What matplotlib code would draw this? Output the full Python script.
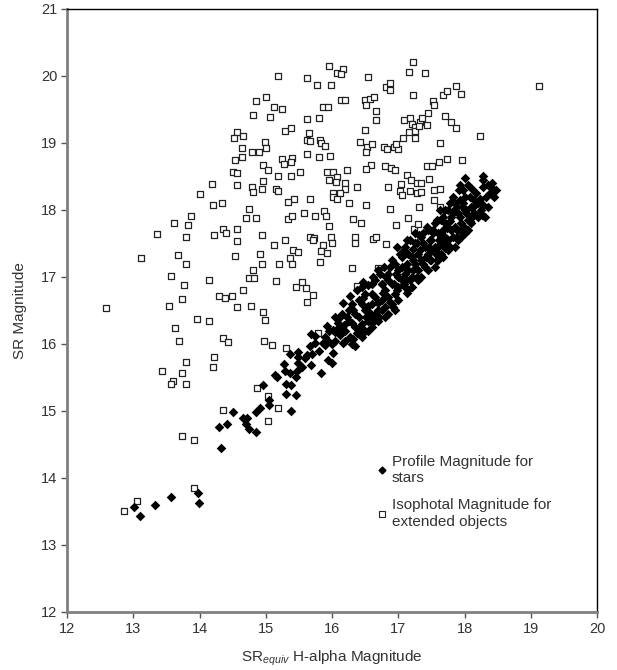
import matplotlib
matplotlib.use('Agg')
import matplotlib.pyplot as plt
from matplotlib.lines import Line2D

plt.rcParams['font.family'] = ['Liberation Sans', 'DejaVu Sans']
plt.rcParams['mathtext.fontset'] = 'custom'
plt.rcParams['mathtext.rm'] = 'Liberation Sans'
plt.rcParams['mathtext.it'] = 'Liberation Sans:italic'

# isophotal magnitude, extended objects (open squares)
ext_x = [15.18, 15.95, 16.08, 16.16, 16.14, 15.63, 15.78, 15.98, 16.55, 17.22, 17.16, 17.41,
         16.81, 16.88, 16.88, 17.23, 14.86, 15.01, 14.81, 15.06, 15.13, 15.25, 15.63, 15.81,
         15.87, 15.94, 16.13, 16.20, 16.50, 16.58, 16.63, 16.52, 16.67, 16.67, 16.50, 15.29,
         15.38, 15.66, 15.63, 15.67, 15.82, 15.84, 15.90, 16.43, 16.53, 16.61, 16.52, 15.63,
         15.80, 15.97, 14.99, 15.00, 14.79, 14.90, 15.25, 15.40, 15.38, 15.27, 14.96, 15.03,
         14.96, 14.79, 14.80, 14.94, 15.18, 15.38, 15.51, 15.15, 15.19, 15.92, 16.01, 15.95,
         16.07, 16.06, 16.19, 16.22, 16.20, 16.37, 16.02, 16.12, 16.01, 15.67, 15.42, 16.59,
         16.52, 16.80, 16.89, 16.95, 16.79, 16.83, 16.94, 17.00, 16.96, 17.07, 17.16, 17.26,
         17.08, 17.18, 17.21, 17.26, 17.25, 17.33, 17.36, 17.32, 17.45, 17.44, 17.52, 17.54,
         17.68, 17.74, 17.87, 17.95, 17.70, 17.80, 17.87, 17.63, 17.13, 17.19, 17.28, 17.35,
         17.04, 17.02, 17.17, 17.05, 17.28, 17.34, 16.85, 17.46, 17.44, 17.51, 17.62, 17.74,
         17.96, 17.54, 17.63, 19.12, 18.24, 14.56, 14.52, 14.65, 14.64, 14.64, 14.53, 14.50,
         14.56, 14.19, 14.01, 14.57, 14.20, 14.34, 14.75, 14.70, 14.86, 13.87, 13.61, 13.83,
         13.36, 13.80, 14.22, 14.35, 14.40, 14.56, 14.56, 13.11, 13.68, 13.80, 14.53, 14.91,
         14.80, 14.75, 14.83, 13.57, 14.14, 13.76, 14.65, 14.29, 14.38, 14.49, 13.74, 13.54,
         12.59, 14.56, 14.78, 13.96, 14.14, 13.63, 13.69, 14.36, 14.43, 14.22, 14.20, 13.79,
         13.43, 13.73, 13.60, 13.57, 13.79, 14.87, 17.54, 17.63, 16.88, 17.32, 17.14, 16.96,
         17.24, 17.30, 15.33, 15.39, 15.58, 15.74, 15.88, 15.91, 16.31, 16.44, 15.95, 14.95,
         15.29, 15.67, 15.73, 15.71, 15.98, 16.00, 16.35, 16.35, 16.62, 16.67, 16.82, 15.12,
         15.41, 15.48, 15.87, 15.83, 15.93, 15.36, 15.39, 15.20, 14.95, 15.82, 16.30, 16.70,
         17.30, 15.15, 15.45, 15.54, 15.61, 15.72, 15.63, 16.38, 14.96, 14.99, 14.97, 15.09,
         15.30, 15.79, 15.04, 14.36, 15.18, 15.03, 13.73, 13.92, 13.92, 13.05, 12.86, 16.25,
         16.51, 15.34, 16.07]
ext_y = [20.00, 20.15, 20.05, 20.10, 20.03, 19.97, 19.87, 19.87, 19.99, 20.21, 20.06, 20.05,
         19.84, 19.89, 19.79, 19.71, 19.63, 19.69, 19.42, 19.39, 19.53, 19.51, 19.36, 19.38,
         19.54, 19.53, 19.64, 19.64, 19.64, 19.65, 19.69, 19.57, 19.48, 19.35, 19.20, 19.18,
         19.22, 19.15, 19.05, 19.03, 19.05, 19.00, 18.96, 19.02, 18.94, 18.99, 18.87, 18.83,
         18.79, 18.81, 19.02, 18.93, 18.87, 18.86, 18.76, 18.77, 18.71, 18.68, 18.67, 18.59,
         18.43, 18.35, 18.27, 18.31, 18.50, 18.51, 18.57, 18.32, 18.29, 18.56, 18.56, 18.45,
         18.49, 18.42, 18.41, 18.60, 18.32, 18.34, 18.26, 18.26, 18.20, 18.17, 18.16, 18.67,
         18.61, 18.65, 18.63, 18.59, 18.94, 18.91, 18.94, 18.91, 18.99, 19.07, 19.17, 19.08,
         19.35, 19.37, 19.29, 19.24, 19.18, 19.32, 19.38, 19.25, 19.45, 19.27, 19.63, 19.57,
         19.72, 19.77, 19.85, 19.73, 19.40, 19.32, 19.22, 19.00, 18.52, 18.45, 18.41, 18.41,
         18.39, 18.29, 18.29, 18.22, 18.26, 18.27, 18.34, 18.46, 18.66, 18.65, 18.72, 18.76,
         18.74, 18.30, 18.32, 19.85, 19.11, 19.17, 19.07, 19.11, 18.93, 18.79, 18.74, 18.57,
         18.55, 18.39, 18.24, 18.37, 18.07, 18.10, 18.01, 17.88, 17.88, 17.91, 17.81, 17.78,
         17.64, 17.60, 17.63, 17.71, 17.65, 17.71, 17.53, 17.28, 17.33, 17.20, 17.31, 17.34,
         17.11, 16.99, 16.99, 17.01, 16.96, 16.88, 16.81, 16.71, 16.68, 16.71, 16.67, 16.57,
         16.54, 16.55, 16.57, 16.37, 16.35, 16.24, 16.05, 16.09, 16.03, 15.80, 15.65, 15.73,
         15.59, 15.57, 15.45, 15.41, 15.41, 15.35, 18.15, 18.04, 18.01, 18.05, 17.88, 17.78,
         17.71, 17.79, 17.87, 17.91, 17.95, 17.91, 17.99, 17.91, 17.87, 17.81, 17.76, 17.63,
         17.55, 17.60, 17.58, 17.55, 17.60, 17.51, 17.60, 17.51, 17.56, 17.59, 17.49, 17.48,
         17.40, 17.38, 17.47, 17.39, 17.36, 17.28, 17.19, 17.19, 17.19, 17.23, 17.14, 17.14,
         17.25, 16.94, 16.85, 16.92, 16.83, 16.73, 16.62, 16.87, 16.47, 16.36, 16.04, 15.99,
         15.94, 16.16, 15.22, 15.02, 15.04, 14.85, 14.62, 14.56, 13.85, 13.66, 13.51, 18.10,
         18.07, 18.12, 18.17]

# profile magnitude, stars (filled diamonds)
star_x = [13.01, 13.10, 13.33, 13.57, 13.97, 13.99, 14.33, 14.29, 14.42, 14.51, 14.65, 14.72,
          14.70, 14.75, 14.85, 14.85, 14.92, 14.96, 15.05, 15.05, 15.30, 15.38, 15.31, 15.45,
          15.38, 15.14, 15.17, 15.27, 15.29, 15.37, 15.47, 15.46, 15.37, 15.49, 15.49, 15.48,
          15.59, 15.63, 15.70, 15.67, 15.68, 15.68, 15.75, 15.89, 15.90, 16.02, 15.83, 15.94,
          16.00, 16.05, 16.12, 16.17, 16.35, 16.32, 15.87, 15.93, 15.92, 16.02, 16.09, 16.15,
          16.27, 16.37, 16.42, 16.30, 16.22, 16.32, 16.17, 16.27, 16.37, 16.47, 16.55, 16.60,
          16.52, 16.57, 16.47, 16.55, 16.71, 16.70, 16.77, 16.88, 16.75, 16.82, 16.72, 16.88,
          16.93, 16.98, 17.00, 17.05, 17.08, 17.13, 17.18, 17.23, 17.28, 17.13, 17.23, 16.98,
          17.08, 17.13, 17.28, 17.33, 17.38, 17.48, 17.43, 17.53, 17.58, 17.50, 17.60, 17.65,
          17.73, 17.78, 17.83, 17.71, 17.93, 17.88, 17.98, 18.03, 18.08, 18.18, 18.28, 18.28,
          18.38, 18.48, 18.31, 18.23, 18.08, 17.88, 17.78, 17.68, 17.58, 17.48, 17.38, 18.28,
          18.01, 17.93, 17.91, 17.98, 18.06, 18.11, 18.41, 18.43, 18.33, 18.23, 18.21, 18.16,
          18.28, 18.26, 18.18, 17.83, 17.78, 17.86, 17.93, 18.01, 17.98, 18.03, 18.11, 18.08,
          18.01, 17.93, 17.88, 17.71, 17.65, 17.73, 17.68, 17.63,
          16.40, 16.45, 16.50, 16.55, 16.60, 16.65, 16.65, 16.70, 16.75, 16.80, 16.80, 16.85,
          16.90, 16.90, 16.95, 17.00, 17.00, 17.05, 17.10, 17.10, 17.15, 17.20, 17.20, 17.25,
          17.30, 17.30, 17.35, 17.40, 17.40, 17.45, 17.50, 17.50, 17.55, 17.60, 17.60, 17.65,
          17.70, 17.70, 17.75, 17.80, 17.80, 17.85, 17.90, 17.95, 18.00, 18.05, 18.10, 18.15,
          18.20, 18.25, 16.10, 16.20, 16.25, 16.35, 16.40, 16.00, 15.95, 16.05, 16.15, 16.30,
          16.35, 16.45, 16.50, 16.60, 16.65, 16.70, 16.75, 16.85, 16.95, 17.05, 17.15, 17.25,
          17.35, 17.45, 17.55, 17.65, 17.75, 17.85, 16.55, 16.70, 16.85, 17.00, 17.15, 17.30,
          17.45, 17.60, 17.75, 17.90, 18.00, 18.10, 18.20, 18.35, 18.45, 16.90, 17.10, 17.25,
          16.95, 16.30, 16.45, 16.60, 16.20,
          16.25, 16.40, 16.45, 16.60, 16.62, 16.78, 16.80, 16.92, 17.02, 17.18, 17.20, 17.35,
          17.38, 17.42, 17.55, 17.52, 17.68, 17.62, 17.82, 17.85, 18.05, 18.15, 18.35, 16.12,
          16.05, 16.18, 16.50, 16.62, 16.75, 16.85, 16.97, 17.12, 17.22, 17.32, 17.47, 17.57,
          17.72, 17.95, 15.80, 15.75, 15.55]
star_y = [13.56, 13.43, 13.59, 13.71, 13.77, 13.63, 14.44, 14.76, 14.80, 14.98, 14.89, 14.90,
          14.80, 14.73, 14.68, 14.99, 15.04, 15.39, 15.16, 15.09, 15.41, 15.39, 15.26, 15.24,
          15.00, 15.53, 15.51, 15.70, 15.60, 15.57, 15.60, 15.50, 15.85, 15.88, 15.81, 15.71,
          15.79, 15.84, 15.85, 15.97, 15.69, 16.15, 16.01, 16.11, 15.99, 15.86, 15.56, 15.76,
          15.72, 16.18, 16.13, 16.01, 15.97, 16.08, 16.01, 16.06, 16.27, 16.21, 16.31, 16.18,
          16.11, 16.16, 16.26, 16.31, 16.41, 16.51, 16.61, 16.71, 16.81, 16.68, 16.56, 16.31,
          16.41, 16.46, 16.93, 16.88, 16.41, 16.61, 16.76, 16.63, 16.90, 17.00, 17.05, 17.15,
          16.90, 16.81, 17.00, 17.15, 16.90, 16.76, 16.96, 17.10, 17.00, 17.20, 17.25, 17.45,
          17.40, 17.55, 17.50, 17.40, 17.65, 17.55, 17.75, 17.70, 17.85, 17.40, 17.45, 17.60,
          17.73, 17.83, 17.95, 18.00, 17.90, 18.05, 18.10, 18.00, 18.20, 18.25, 18.35, 18.50,
          18.25, 18.30, 17.90, 17.95, 17.90, 17.70, 17.45, 17.30, 17.25, 17.25, 17.20, 18.45,
          18.47, 18.37, 18.30, 18.30, 18.37, 18.32, 18.40, 18.32, 18.20, 18.17, 18.10, 18.07,
          18.07, 17.93, 17.93, 18.20, 18.10, 18.02, 18.15, 18.20, 18.05, 17.95, 17.90, 17.83,
          17.73, 17.70, 17.60, 17.43, 17.35, 17.75, 17.90, 18.00,
          16.40, 16.30, 16.50, 16.35, 16.60, 16.45, 16.70, 16.50, 16.65, 16.55, 16.80, 16.70,
          16.90, 16.60, 16.75, 16.85, 17.10, 16.95, 17.05, 16.85, 17.10, 17.30, 17.00, 17.20,
          17.10, 17.35, 17.25, 17.45, 17.15, 17.35, 17.55, 17.25, 17.45, 17.65, 17.35, 17.50,
          17.60, 17.80, 17.55, 17.70, 17.90, 17.75, 17.95, 17.80, 18.00, 17.85, 18.05, 17.95,
          18.10, 18.00, 16.25, 16.20, 16.35, 16.25, 16.15, 16.00, 16.20, 16.05, 16.45, 16.60,
          16.45, 16.60, 16.75, 16.90, 16.95, 17.10, 16.90, 17.05, 17.20, 17.30, 17.35, 17.50,
          17.60, 17.70, 17.80, 17.85, 18.00, 18.10, 16.20, 16.35, 16.45, 16.65, 16.80, 16.95,
          17.10, 17.25, 17.40, 17.55, 17.65, 17.80, 17.90, 18.05, 18.20, 17.25, 17.45, 17.65,
          16.50, 16.00, 16.10, 16.25, 16.05,
          16.50, 16.65, 16.85, 16.75, 17.00, 17.15, 16.40, 16.55, 17.35, 17.55, 16.85, 17.00,
          17.50, 17.30, 17.15, 17.65, 17.70, 17.55, 17.60, 17.45, 17.70, 18.15, 18.38, 16.40,
          16.40, 16.28, 16.20, 16.40, 16.50, 16.95, 17.05, 16.95, 17.42, 17.62, 17.45, 17.35,
          17.50, 17.60, 15.90, 16.12, 15.65]

fig = plt.figure(figsize=(6.17, 6.70), dpi=100)
ax = fig.add_axes([0.1086, 0.0866, 0.8590, 0.9000])

ax.scatter(ext_x, ext_y, marker='s', s=24, facecolors='white', edgecolors='#222222',
           linewidths=0.9, zorder=2)
ax.scatter(star_x, star_y, marker='D', s=24, color='black', linewidths=0, zorder=3)

ax.set_xlim(12, 20)
ax.set_ylim(12, 21)
ax.set_xticks(range(12, 21))
ax.set_yticks(range(12, 22))

for side in ['left', 'bottom']:
    ax.spines[side].set_color('#808080')
    ax.spines[side].set_linewidth(2)
for side in ['top', 'right']:
    ax.spines[side].set_color('black')
    ax.spines[side].set_linewidth(1)
ax.tick_params(direction='out', length=4, width=1, color='#555555',
               labelsize=10.5, labelcolor='#333333', pad=3)

ax.set_xlabel('SR$_{equiv}$ H-alpha Magnitude', fontsize=11, color='#333333', labelpad=9)
ax.set_ylabel('SR Magnitude', fontsize=11, color='#333333', labelpad=10)

handles = [Line2D([], [], linestyle='none', marker='D', markersize=3.5, color='black'),
           Line2D([], [], linestyle='none', marker='s', markersize=4, markerfacecolor='white',
                  markeredgecolor='#222222', markeredgewidth=0.8)]
labels = ['Profile Magnitude for\nstars', 'Isophotal Magnitude for\nextended objects']
leg = ax.legend(handles, labels, loc='upper left', bbox_to_anchor=(0.600, 0.333),
                bbox_transform=fig.transFigure, frameon=False, fontsize=11,
                handlelength=0.5, handletextpad=0.4, labelspacing=0.9, borderpad=0)
for t in leg.get_texts():
    t.set_color('#333333')

fig.savefig('out.png', dpi=100)
